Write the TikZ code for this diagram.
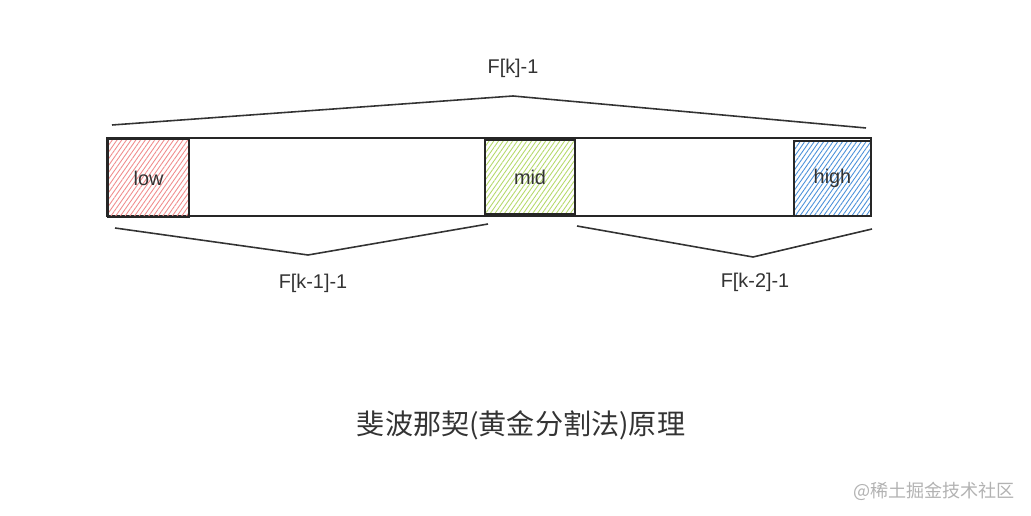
\documentclass[tikz,border=0pt]{standalone}
\usepackage{fontspec}
\setmainfont{Liberation Sans}
\newfontfamily\cjk{Noto Sans CJK SC}
\usetikzlibrary{positioning,patterns.meta}
\definecolor{inkgray}{HTML}{333333}
\definecolor{lowred}{HTML}{F08C8C}
\definecolor{midgreen}{HTML}{B5D96A}
\definecolor{highblue}{HTML}{4A90D9}

\begin{document}
\begin{tikzpicture}[
      x=0.02cm, y=-0.02cm,
      font=\fontsize{11.3pt}{13pt}\selectfont, text=inkgray,
      cell/.style={
        draw=black!85, line width=1pt, inner sep=0pt,
        pattern={Lines[angle=55,distance=2.2pt,line width=0.5pt]}
      },
      brace/.style={draw=black!80, line width=0.9pt, line join=miter},
      lbl/.style={text=inkgray}
    ]
      \useasboundingbox (0,0) rectangle (1031,516);
      % the array
      \node[draw=black!85, line width=0.9pt, minimum width=15.28cm,
        minimum height=1.56cm] (bar) at (489,177) {};
      \node[cell, pattern color=lowred, minimum width=1.62cm,
        minimum height=1.56cm] (low) at (148.5,178) {low};
      \node[cell, pattern color=midgreen, minimum width=1.8cm,
        minimum height=1.48cm] (mid) at (530,177) {mid};
      \node[cell, pattern color=highblue, minimum width=1.54cm,
        minimum height=1.5cm] (high) at (832.5,178.5) {high};
      % braces
      \coordinate (topL) at (112,125);
      \coordinate (topM) at (513,96);
      \coordinate (topR) at (866,128);
      \coordinate (lefL) at (115,228);
      \coordinate (lefM) at (308,255);
      \coordinate (lefR) at (488,224);
      \coordinate (rigL) at (577,226);
      \coordinate (rigM) at (753,257);
      \coordinate (rigR) at (872,229);
      \draw[brace] (topL) -- (topM) -- (topR);
      \draw[brace] (lefL) -- (lefM) -- (lefR);
      \draw[brace] (rigL) -- (rigM) -- (rigR);
      \node[lbl] (fk) at (513,68) {F[k]-1};
      \node[lbl] (fk1) at (313,283) {F[k-1]-1};
      \node[lbl] (fk2) at (755,282) {F[k-2]-1};
      % caption
      \node[font=\cjk\fontsize{16pt}{18pt}\selectfont, text=inkgray]
        (title) at (521,425) {斐波那契(黄金分割法)原理};
      \node[font=\cjk\fontsize{10.3pt}{12pt}\selectfont, text=black!30]
        (mark) at (934,491) {@稀土掘金技术社区};
    \end{tikzpicture}
\end{document}
